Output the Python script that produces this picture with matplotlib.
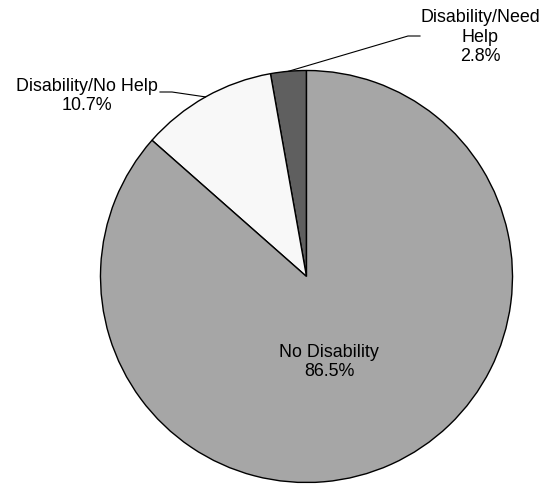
import numpy as np
import matplotlib.pyplot as plt

plt.rcParams['font.family'] = ['Liberation Sans', 'DejaVu Sans']

labels = ['Disability/Need\nHelp', 'Disability/No Help', 'No Disability']
shares = [2.8, 10.7, 86.5]
colors = ['#5f5f5f', '#f8f8f8', '#a6a6a6']

W, H = 543, 485
fig = plt.figure(figsize=(W / 100, H / 100), dpi=100)
ax = fig.add_axes([0, 0, 1, 1])

cx, cy, r = 306.5, H - 277.5, 206
wedges, _ = ax.pie(shares, colors=colors, startangle=90, counterclock=True,
                   center=(cx, cy), radius=r, frame=True,
                   wedgeprops=dict(edgecolor='black', linewidth=1.0))

ax.set_xlim(0, W)
ax.set_ylim(0, H)
ax.set_aspect('equal')
ax.axis('off')

fs = 12.9

def edge_point(w):
    a = np.deg2rad((w.theta1 + w.theta2) / 2)
    return cx + r * np.cos(a), cy + r * np.sin(a)

# Disability/Need Help
ex, ey = edge_point(wedges[0])
ax.plot([ex, 408, 420], [ey, H - 37, H - 37], color='black', lw=0.8)
ax.text(480, H - 37, f'{labels[0]}\n{shares[0]}%', ha='center', va='center',
        fontsize=fs, linespacing=1.2)

# Disability/No Help
ex, ey = edge_point(wedges[1])
ax.plot([160, 172, ex], [H - 93, H - 93, ey], color='black', lw=0.8)
ax.text(87, H - 96, f'{labels[1]}\n{shares[1]}%', ha='center', va='center',
        fontsize=fs, linespacing=1.2)

# No Disability
ax.text(329, H - 362, f'{labels[2]}\n{shares[2]}%', ha='center', va='center',
        fontsize=fs, linespacing=1.2)

fig.savefig('out.png', dpi=100)
